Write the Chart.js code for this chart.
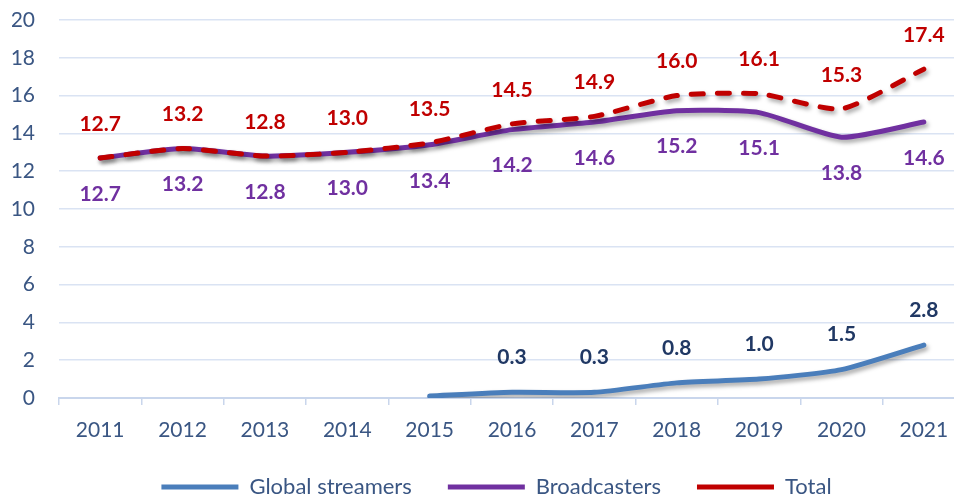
<!DOCTYPE html>
<html>
<head>
<meta charset="utf-8">
<script src="https://cdn.jsdelivr.net/npm/chart.js@4.4.1/dist/chart.umd.min.js"></script>
<style>
  html, body { margin: 0; padding: 0; background: #fff; overflow: hidden; }
  #wrap { position: relative; width: 975px; height: 497px; }
</style>
</head>
<body>
<div id="wrap"><canvas id="chart"></canvas></div>
<script>
const years = ["2011", "2012", "2013", "2014", "2015", "2016", "2017", "2018", "2019", "2020", "2021"];
const streamers = [null, null, null, null, 0.1, 0.3, 0.3, 0.8, 1.0, 1.5, 2.8];
const broadcasters = [12.7, 13.2, 12.8, 13.0, 13.4, 14.2, 14.6, 15.2, 15.1, 13.8, 14.6];
const total = [12.7, 13.2, 12.8, 13.0, 13.5, 14.5, 14.9, 16.0, 16.1, 15.3, 17.4];
const streamerLabels = [null, null, null, null, null, "0.3", "0.3", "0.8", "1.0", "1.5", "2.8"];
const broadcasterLabels = ["12.7", "13.2", "12.8", "13.0", "13.4", "14.2", "14.6", "15.2", "15.1", "13.8", "14.6"];
const totalLabels = ["12.7", "13.2", "12.8", "13.0", "13.5", "14.5", "14.9", "16.0", "16.1", "15.3", "17.4"];
const yTicks = [0, 2, 4, 6, 8, 10, 12, 14, 16, 18, 20];

const FONT = "Lato, 'Noto Sans', sans-serif";

// soft shadow under the lines, like the office chart
const shadowPlugin = {
  id: "lineShadow",
  beforeDatasetsDraw(chart) {
    const ctx = chart.ctx;
    ctx.save();
    ctx.shadowColor = "rgba(0,0,0,0.35)";
    ctx.shadowBlur = 4;
    ctx.shadowOffsetX = 2;
    ctx.shadowOffsetY = 3;
  },
  afterDatasetsDraw(chart) {
    chart.ctx.restore();
  }
};

// nudge the legend so it sits centred under the visible part
const legendNudge = {
  id: "legendNudge",
  afterLayout(chart) {
    if (!chart.legend) return;
    chart.legend.left += 8;
    chart.legend.right += 8;
  }
};

const valueLabels = {
  id: "valueLabels",
  afterDatasetsDraw(chart) {
    const ctx = chart.ctx;
    const sets = [
      { idx: 0, texts: streamerLabels, color: "#203864", dy: -35 },
      { idx: 1, texts: broadcasterLabels, color: "#7030a0", dy: 36 },
      { idx: 2, texts: totalLabels, color: "#c00000", dy: -34 }
    ];
    ctx.save();
    ctx.font = "bold 21px " + FONT;
    ctx.textAlign = "center";
    ctx.textBaseline = "middle";
    sets.forEach((s) => {
      const meta = chart.getDatasetMeta(s.idx);
      meta.data.forEach((pt, i) => {
        if (!s.texts[i]) return;
        ctx.fillStyle = s.color;
        ctx.fillText(s.texts[i], pt.x, pt.y + s.dy);
      });
    });
    ctx.restore();
  }
};

new Chart(document.getElementById("chart"), {
  type: "line",
  data: {
    labels: years,
    datasets: [
      {
        label: "Global streamers",
        data: streamers,
        borderColor: "#4a7ebb",
        backgroundColor: "#4a7ebb",
        borderWidth: 5,
        borderCapStyle: "round",
        borderJoinStyle: "round",
        pointRadius: 0,
        tension: 0.2,
        order: 2
      },
      {
        label: "Broadcasters",
        data: broadcasters,
        borderColor: "#7030a0",
        backgroundColor: "#7030a0",
        borderWidth: 5,
        borderCapStyle: "round",
        borderJoinStyle: "round",
        pointRadius: 0,
        tension: 0.2,
        order: 1
      },
      {
        label: "Total",
        data: total,
        borderColor: "#c00000",
        backgroundColor: "#c00000",
        borderWidth: 5,
        borderDash: [12, 14],
        borderCapStyle: "round",
        borderJoinStyle: "round",
        pointRadius: 0,
        tension: 0.2,
        order: 0
      }
    ]
  },
  options: {
    responsive: true,
    maintainAspectRatio: false,
    animation: false,
    layout: { padding: { left: 12, right: 10, top: 20, bottom: -11 } },
    plugins: {
      legend: {
        position: "bottom",
        labels: {
          usePointStyle: true,
          pointStyle: "line",
          pointStyleWidth: 77,
          boxWidth: 77,
          padding: 36,
          color: "#3a5683",
          font: { family: FONT, size: 22 },
          sort: (a, b) => a.datasetIndex - b.datasetIndex
        }
      },
      tooltip: { enabled: false }
    },
    scales: {
      x: {
        offset: true,
        afterFit: (scale) => { scale.height = 42; },
        grid: {
          offset: true,
          drawOnChartArea: false,
          drawTicks: true,
          tickLength: 7,
          color: "#c9d6ec",
          lineWidth: 1.5
        },
        border: { color: "#c9d6ec", width: 2 },
        ticks: {
          color: "#3a5683",
          font: { family: FONT, size: 21 },
          maxRotation: 0,
          padding: 13
        }
      },
      y: {
        min: 0,
        max: 20,
        afterFit: (scale) => {
          scale.width = 47;
          scale.paddingTop = 0;
          scale.paddingBottom = 0;
        },
        afterBuildTicks: (scale) => { scale.ticks = yTicks.map((v) => ({ value: v })); },
        grid: { color: "#dae3f3", lineWidth: 1.5, drawTicks: false },
        border: { display: false },
        ticks: {
          color: "#3a5683",
          font: { family: FONT, size: 21 },
          padding: 24
        }
      }
    }
  },
  plugins: [shadowPlugin, legendNudge, valueLabels]
});
</script>
</body>
</html>
